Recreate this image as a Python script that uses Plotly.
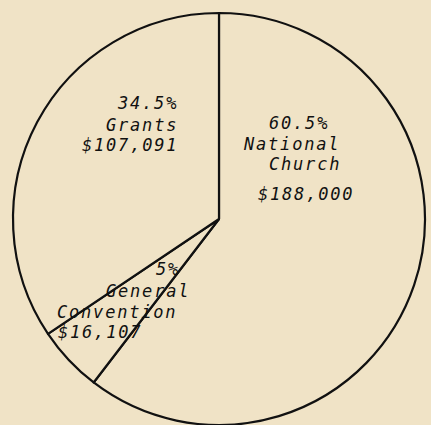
import plotly.graph_objects as go

# ---- data ----
labels = ["National Church", "General Convention", "Grants"]
amounts = [188000, 16107, 107091]
pct_text = ["60.5%", "5%", "34.5%"]
label_lines = [["National", "Church"], ["General", "Convention"], ["Grants"]]
amount_text = ["$188,000", "$16,107", "$107,091"]

W, H = 431, 425
BG = "#f0e3c6"
cx, cy, r = 219, 219, 206

fig = go.Figure(go.Pie(
    labels=labels,
    values=amounts,
    sort=False,
    direction="clockwise",
    rotation=0,
    textinfo="none",
    hoverinfo="label+value+percent",
    marker=dict(colors=[BG] * 3, line=dict(color="#111111", width=2.2)),
    domain=dict(x=[(cx - r) / W, (cx + r) / W], y=[0, 2 * r / H]),
    showlegend=False,
))

FONT = dict(family="DejaVu Sans Mono", size=17, color="#111111")

def ann(text, x, y, anchor="center"):
    fig.add_annotation(
        text='<span style="letter-spacing:1.8px"><i>' + text + "</i></span>",
        x=x / W, y=1 - y / H,
        xref="paper", yref="paper", xanchor=anchor, yanchor="middle",
        showarrow=False, font=FONT, borderpad=0,
    )

# National Church
ann(pct_text[0], 299, 123)
ann(label_lines[0][0], 291, 144)
ann(label_lines[0][1], 305, 164)
ann(amount_text[0], 306, 194)
# General Convention
ann(pct_text[1], 168, 269)
ann(label_lines[1][0], 148, 291)
ann(label_lines[1][1], 56, 312, "left")
ann(amount_text[1], 57, 332, "left")
# Grants
ann(pct_text[2], 179, 103, "right")
ann(label_lines[2][0], 179, 125, "right")
ann(amount_text[2], 179, 145, "right")

fig.update_layout(
    width=W, height=H,
    margin=dict(l=0, r=0, t=0, b=0),
    paper_bgcolor=BG, plot_bgcolor=BG,
)
fig.write_html(
    "out.html",
    config={"displayModeBar": False},
    post_script="document.body.style.margin='0';document.body.style.background='%s';" % BG,
)
